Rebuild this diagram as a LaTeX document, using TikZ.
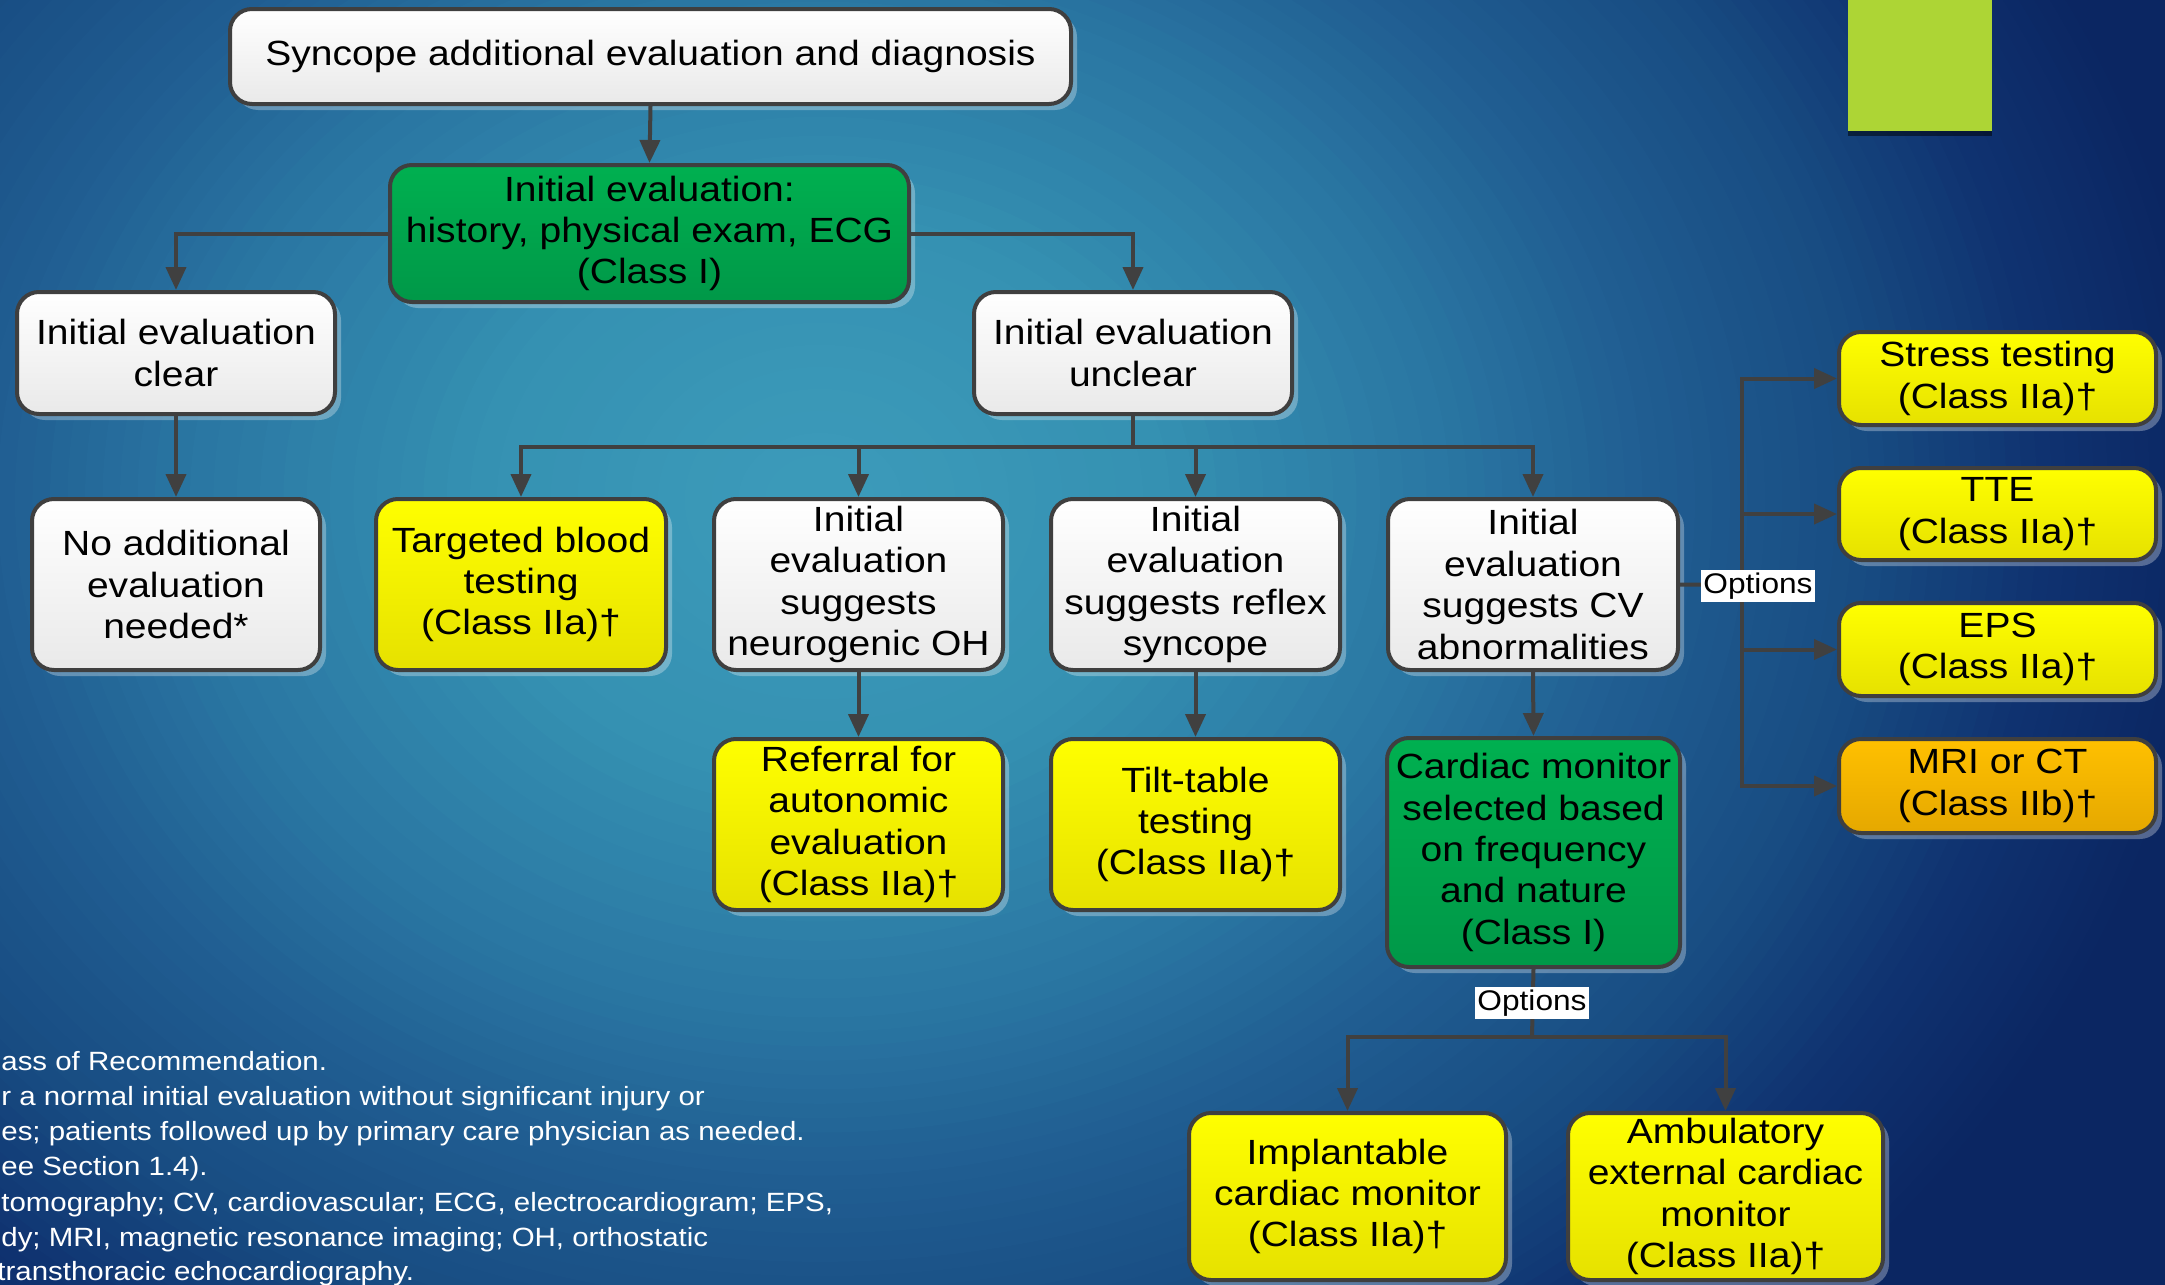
\documentclass[tikz,border=0pt]{standalone}
\usepackage{fontspec}
\setmainfont{Liberation Sans}[FakeStretch=1.115]
\usetikzlibrary{arrows.meta,shadows}

% palette
\definecolor{edge}{HTML}{3F3F3F}
\definecolor{wire}{HTML}{404040}
\definecolor{paleend}{HTML}{E9E9E9}
\definecolor{yelA}{HTML}{FFFF00}
\definecolor{yelB}{HTML}{E6E100}
\definecolor{grnA}{HTML}{00B050}
\definecolor{grnB}{HTML}{009848}
\definecolor{orgA}{HTML}{FFC000}
\definecolor{orgB}{HTML}{E5A800}
\definecolor{accentgreen}{HTML}{ADD535}
\definecolor{glowA}{HTML}{3C9BBA}
\definecolor{glowB}{HTML}{3591B2}
\definecolor{glowC}{HTML}{2A77A3}
\definecolor{glowD}{HTML}{205D91}
\definecolor{glowE}{HTML}{184C82}
\definecolor{glowF}{HTML}{0F3270}
\definecolor{glowG}{HTML}{0B2662}

\newcommand\flowfont{\fontsize{17.5pt}{20.7pt}\selectfont}
\newcommand\optsfont{\fontsize{14.2pt}{16pt}\selectfont}
\newcommand\legendfont{\fontsize{13.2pt}{17.5pt}\selectfont}

% a box given by its corners in pixel units: name, style, x1, y1, x2, y2, text
\newcommand\flowbox[7]{%
  \node[#2, minimum width={(#5-#3)*0.5pt-2pt}, minimum height={(#6-#4)*0.5pt-2pt}]
    (#1) at ({(#3+#5)/2},{(#4+#6)/2}) {#7};}

\tikzset{
  box/.style={draw=edge, line width=2pt, rounded corners=11pt, inner sep=0pt,
    align=center, font=\flowfont, text=black,
    drop shadow={shadow xshift=3pt, shadow yshift=-3pt, fill=white, opacity=0.3}},
  whitebox/.style={box, top color=white, bottom color=paleend},
  yellowbox/.style={box, top color=yelA, bottom color=yelB},
  greenbox/.style={box, top color=grnA, bottom color=grnB},
  orangebox/.style={box, top color=orgA, bottom color=orgB},
  link/.style={draw=wire, line width=2pt},
  arrow/.style={link, -{Triangle[length=11.5pt,width=10pt]}},
  optlabel/.style={fill=white, inner sep=1.2pt, font=\optsfont, text=black},
  note/.style={text=white, font=\legendfont, inner sep=0pt, anchor=base west},
}

\begin{document}
\begin{tikzpicture}[x=0.5pt,y=-0.5pt]
\useasboundingbox (0,0) rectangle (2165,1285);

% slide background: navy ground with a soft teal glow, built from nested ellipses
\begin{scope}
  \clip (0,0) rectangle (2165,1285);
  \fill[glowG] (0,0) rectangle (2165,1285);
  \foreach \ca/\cb/\ra/\rb in {glowF/glowG/0.88/1.0, glowE/glowF/0.75/0.88,
      glowD/glowE/0.6/0.75, glowC/glowD/0.45/0.6, glowB/glowC/0.25/0.45,
      glowA/glowB/0.02/0.25} {
    \foreach \k in {0,...,11} {
      \pgfmathsetmacro\rr{\rb-\k*(\rb-\ra)/12}
      \pgfmathsetmacro\pp{100*\k/12}
      \fill[\ca!\pp!\cb] (820,500) ellipse [x radius={\rr*700pt}, y radius={\rr*575pt}];
    }
  }
\end{scope}

% accent square
\node[name=accent, fill=accentgreen, inner sep=0pt, minimum width=72pt, minimum height=65.5pt,
  drop shadow={shadow xshift=0pt, shadow yshift=-2.5pt, fill=black, opacity=0.5}] at (1920,65.5) {};

% boxes
\flowbox{title}{whitebox}{228}{7}{1073}{106}{Syncope additional evaluation and diagnosis}
\flowbox{init}{greenbox}{388}{163}{911}{304}{Initial evaluation:\\history, physical exam, ECG\\(Class I)}
\flowbox{clear}{whitebox}{15}{290}{337}{416}{Initial evaluation\\clear}
\flowbox{unclear}{whitebox}{972}{290}{1294}{416}{Initial evaluation\\unclear}
\flowbox{noadd}{whitebox}{30}{497}{322}{672}{No additional\\evaluation\\needed*}
\flowbox{blood}{yellowbox}{374}{497}{668}{672}{Targeted blood\\testing\\(Class IIa)†}
\flowbox{neuro}{whitebox}{712}{497}{1005}{672}{Initial\\evaluation\\suggests\\neurogenic OH}
\flowbox{reflex}{whitebox}{1049}{497}{1342}{672}{Initial\\evaluation\\suggests reflex\\syncope}
\flowbox{cv}{whitebox}{1386}{497}{1680}{672}{Initial\\evaluation\\suggests CV\\abnormalities}
\flowbox{referral}{yellowbox}{712}{737}{1005}{912}{Referral for\\autonomic\\evaluation\\(Class IIa)†}
\flowbox{tilt}{yellowbox}{1049}{737}{1342}{912}{Tilt-table\\testing\\(Class IIa)†}
\flowbox{cardiac}{greenbox}{1385}{736}{1682}{969}{Cardiac monitor\\selected based\\on frequency\\and nature\\(Class I)}
\flowbox{implant}{yellowbox}{1187}{1111}{1508}{1282}{Implantable\\cardiac monitor\\(Class IIa)†}
\flowbox{ambul}{yellowbox}{1566}{1111}{1885}{1282}{Ambulatory\\external cardiac\\monitor\\(Class IIa)†}
\flowbox{stress}{yellowbox}{1837}{330}{2158}{427}{Stress testing\\(Class IIa)†}
\flowbox{tte}{yellowbox}{1837}{466}{2158}{562}{TTE\\(Class IIa)†}
\flowbox{eps}{yellowbox}{1837}{601}{2158}{698}{EPS\\(Class IIa)†}
\flowbox{mri}{orangebox}{1837}{737}{2158}{835}{MRI or CT\\(Class IIb)†}

% connectors
\draw[arrow] (title.south) -- (init.north);
\draw[arrow] (init.west) -| (clear.north);
\draw[arrow] (init.east) -| (unclear.north);
\draw[arrow] (clear.south) -- (noadd.north);

\coordinate (bar) at (1133,447);
\draw[link] (unclear.south) -- (bar);
\draw[arrow] (bar) -| (blood.north);
\draw[arrow] (bar) -| (neuro.north);
\draw[arrow] (bar) -| (reflex.north);
\draw[arrow] (bar) -| (cv.north);

\draw[arrow] (neuro.south) -- (referral.north);
\draw[arrow] (reflex.south) -- (tilt.north);
\draw[arrow] (cv.south) -- (cardiac.north);

% test options beside the CV branch
\coordinate (spine) at (1742,585);
\draw[link] (cv.east) -- (spine);
\draw[arrow] (spine |- mri.west) |- (stress.west);
\draw[arrow] (spine |- stress.west) |- (mri.west);
\draw[arrow] (spine |- tte.west) -- (tte.west);
\draw[arrow] (spine |- eps.west) -- (eps.west);
\node[optlabel] (opt1) at (1758,586) {Options};

% monitoring options below the cardiac monitor
\coordinate (fork) at (1532,1037);
\draw[link] (cardiac.south) -- (fork);
\draw[arrow] (fork) -| (implant.north);
\draw[arrow] (fork) -| (ambul.north);
\node[optlabel] (opt2) at (1532,1003) {Options};

% legend lines
\node[note] (note1) at (1,1070) {ass of Recommendation.};
\node[note] (note2) at (1,1105) {r a normal initial evaluation without significant injury or};
\node[note] (note3) at (1,1140) {es; patients followed up by primary care physician as needed.};
\node[note] (note4) at (1,1175) {ee Section 1.4).};
\node[note] (note5) at (1,1211) {tomography; CV, cardiovascular; ECG, electrocardiogram; EPS,};
\node[note] (note6) at (1,1246) {dy; MRI, magnetic resonance imaging; OH, orthostatic};
\node[note] (note7) at (-3,1280) {transthoracic echocardiography.};
\end{tikzpicture}
\end{document}
